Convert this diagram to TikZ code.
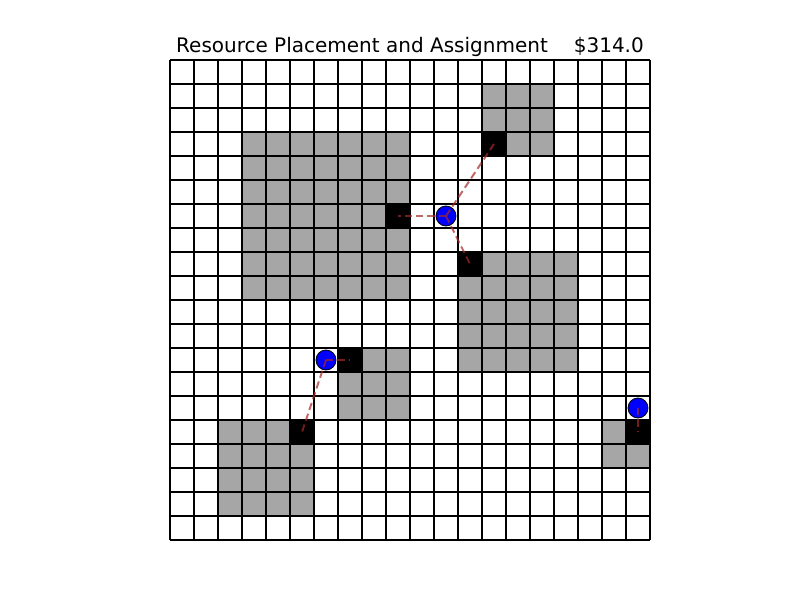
\documentclass[tikz,border=0pt]{standalone}
\usepackage{fontspec}
\setmainfont{DejaVu Sans}
\definecolor{blockgray}{RGB}{166,166,166}
\definecolor{linkred}{RGB}{165,42,42}

\begin{document}
\begin{tikzpicture}[x=18pt, y=-18pt,
    site/.style={circle, draw=black, fill=blue, line width=0.6pt, inner sep=0pt, minimum size=15pt},
    link/.style={linkred, opacity=0.7, dashed, dash pattern=on 5.5pt off 3pt, line width=1.5pt}]
    \useasboundingbox (-7.0833, -2.5) rectangle (26.25, 22.5);

    % title
    \node[anchor=base, inner sep=0pt] (title) at (10, -0.3)
        {\fontsize{15}{18}\selectfont Resource Placement and Assignment\hspace{1.3em}\$314.0};

    % occupied blocks
    \fill[blockgray] (13, 1) rectangle (16, 4);
    \fill[blockgray] (3, 3) rectangle (10, 10);
    \fill[blockgray] (12, 8) rectangle (17, 13);
    \fill[blockgray] (7, 12) rectangle (10, 15);
    \fill[blockgray] (2, 15) rectangle (6, 19);
    \fill[blockgray] (18, 15) rectangle (20, 17);

    % placed resources
    \fill[black] (13, 3) rectangle (14, 4);
    \fill[black] (9, 6) rectangle (10, 7);
    \fill[black] (12, 8) rectangle (13, 9);
    \fill[black] (7, 12) rectangle (8, 13);
    \fill[black] (5, 15) rectangle (6, 16);
    \fill[black] (19, 15) rectangle (20, 16);

    \coordinate (R1) at (13.5, 3.5);
    \coordinate (R2) at (9.5, 6.5);
    \coordinate (R3) at (12.5, 8.5);
    \coordinate (R4) at (7.5, 12.5);
    \coordinate (R5) at (5.5, 15.5);
    \coordinate (R6) at (19.5, 15.5);

    % grid
    \foreach \i in {0,...,20} {
        \draw[line width=1pt] (\i, 0) -- (\i, 20);
        \draw[line width=1pt] (0, \i) -- (20, \i);
    }

    % sites
    \node[site] (S1) at (11.5, 6.5) {};
    \node[site] (S2) at (6.5, 12.5) {};
    \node[site] (S3) at (19.5, 14.5) {};

    % assignments
    \draw[link] (S1.center) -- (R1);
    \draw[link] (S1.center) -- (R2);
    \draw[link] (S1.center) -- (R3);
    \draw[link] (S2.center) -- (R4);
    \draw[link] (S2.center) -- (R5);
    \draw[link] (S3.center) -- (R6);
\end{tikzpicture}
\end{document}
